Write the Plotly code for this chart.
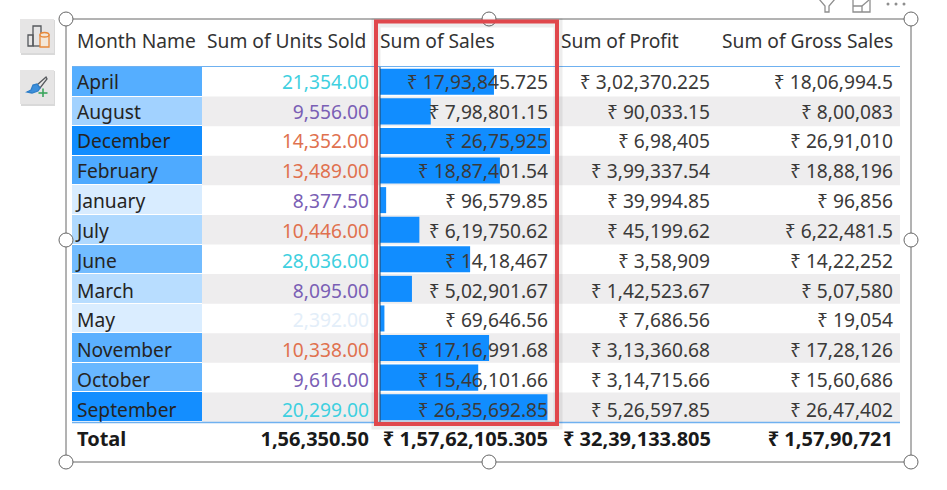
import plotly.graph_objects as go

months = ['April', 'August', 'December', 'February', 'January', 'July', 'June', 'March', 'May',
          'November', 'October', 'September']
units = [21354, 9556, 14352, 13489, 8377.5, 10446, 28036, 8095, 2392, 10338, 9616, 20299]
sales = [1793845.725, 798801.15, 2675925, 1887401.54, 96579.85, 619750.62, 1418467, 502901.67,
         69646.56, 1716991.68, 1546101.66, 2635692.85]
profit = [302370.225, 90033.15, 698405, 399337.54, 39994.85, 45199.62, 358909, 142523.67,
          7686.56, 313360.68, 314715.66, 526597.85]
gross = [1806994.5, 800083, 2691010, 1888196, 96856, 622481.5, 1422252, 507580, 19054, 1728126,
         1560686, 2647402]
headers = ['Month Name', 'Sum of Units Sold', 'Sum of Sales', 'Sum of Profit', 'Sum of Gross Sales']
totals = ['Total', '1,56,350.50', '₹ 1,57,62,105.305', '₹ 32,39,133.805', '₹ 1,57,90,721']

W, H = 947, 490
TOP, BOTTOM = 67, 422
FONT = 'Noto Sans'


def indian(text):
    # lakh style grouping, e.g. 1793845.725 -> 17,93,845.725
    whole, _, dec = text.partition('.')
    out = whole[-3:]
    whole = whole[:-3]
    while whole:
        out = whole[-2:] + ',' + out
        whole = whole[:-2]
    return out + ('.' + dec if dec else '')


def rupee(v):
    s = repr(float(v))
    if s.endswith('.0'):
        s = s[:-2]
    return '₹ ' + indian(s)


def unit_color(v):
    if v < 8000:
        return '#E3EEF9'
    if v < 10000:
        return '#7A5FB5'
    if v < 20000:
        return '#E0714F'
    return '#3FD0E0'


def fx(x):
    return x / W


def fy(y):
    return 1 - y / H


def rect(x0, y0, x1, y1, **kw):
    return dict(type='rect', xref='paper', yref='paper', x0=fx(x0), x1=fx(x1), y0=fy(y0), y1=fy(y1), **kw)


def seg(x0, y0, x1, y1, color, width):
    return dict(type='line', xref='paper', yref='paper', x0=fx(x0), x1=fx(x1), y0=fy(y0), y1=fy(y1),
                line=dict(color=color, width=width))


def oval(x0, y0, x1, y1, fill, color, width=1):
    return dict(type='circle', xref='paper', yref='paper', x0=fx(x0), x1=fx(x1), y0=fy(y0), y1=fy(y1),
                fillcolor=fill, line=dict(color=color, width=width))


def handle(x, y, r=7):
    return oval(x - r, y - r, x + r, y + r, 'white', '#666666')


def poly(pts, color, width=1.3, fill='rgba(0,0,0,0)', close=False):
    d = ' '.join(('M' if i == 0 else 'L') + ' %f %f' % (fx(x), fy(y)) for i, (x, y) in enumerate(pts))
    return dict(type='path', xref='paper', yref='paper', path=d + (' Z' if close else ''),
                fillcolor=fill, line=dict(color=color, width=width))


fig = go.Figure()

# month column heat colours
fig.add_trace(go.Heatmap(z=[[v] for v in sales], y=months, x=['m'], xaxis='x3', yaxis='y2',
                         colorscale=[[0, '#DFF0FF'], [1, '#118DFF']], zmin=0, zmax=max(sales),
                         showscale=False, ygap=1, hoverinfo='skip'))

# data bars in the sales column
fig.add_trace(go.Bar(x=sales, y=months, orientation='h', xaxis='x2', yaxis='y2',
                     marker=dict(color='#118DFF', line=dict(width=0)), width=0.88, hoverinfo='skip'))


def column(values, right, colors='#3B3A39'):
    fig.add_trace(go.Scatter(x=[right] * len(months), y=months, mode='text', text=values, xaxis='x4', yaxis='y3',
                             textposition='middle left', textfont=dict(family=FONT, size=19.2, color=colors),
                             cliponaxis=False, hoverinfo='skip'))


fig.add_trace(go.Scatter(x=[77] * len(months), y=months, mode='text', text=months, xaxis='x4', yaxis='y3',
                         textposition='middle right', textfont=dict(family=FONT, size=19.2, color='#252423'),
                         cliponaxis=False, hoverinfo='skip'))
column(['{:,.2f}'.format(v) if v < 100000 else indian('%.2f' % v) for v in units], 369,
       [unit_color(v) for v in units])
column([rupee(v) for v in sales], 548)
column([rupee(v) for v in profit], 710)
column([rupee(v) for v in gross], 893)

# header and total rows
head_x = [77, 207, 380, 561, 722]
fig.add_trace(go.Scatter(x=head_x, y=[43.5] * 5, mode='text', text=headers, xaxis='x4', yaxis='y4',
                         textposition='middle right', textfont=dict(family=FONT, size=19.2, color='#333333'),
                         cliponaxis=False, hoverinfo='skip'))
total_x = [77, 369, 548, 711, 893]
fig.add_trace(go.Scatter(x=total_x, y=[441] * 5, mode='text', text=['<b>%s</b>' % t for t in totals],
                         xaxis='x4', yaxis='y4', textfont=dict(family=FONT, size=20, color='#1A1A1A'),
                         textposition=['middle right'] + ['middle left'] * 4, cliponaxis=False, hoverinfo='skip'))

shapes = []
# zebra rows
row_h = (BOTTOM - TOP) / len(months)
for i in range(1, len(months), 2):
    shapes.append(rect(202, TOP + i * row_h, 900, TOP + (i + 1) * row_h, layer='below',
                       fillcolor='#EEEDEE', line=dict(width=0)))
shapes.append(seg(72, 66.5, 900, 66.5, '#6FB1F0', 1))
shapes.append(seg(72, 422.5, 900, 422.5, '#6FB1F0', 1.5))
shapes.append(seg(380, TOP, 380, BOTTOM, '#2B4A6B', 1))

# selection frame and handles
shapes.append(rect(66, 19, 911, 462, line=dict(color='#666666', width=1), fillcolor='rgba(0,0,0,0)'))
for hx, hy in [(66, 19), (489, 19), (911, 19), (66, 240), (911, 240), (66, 462), (489, 462), (911, 462)]:
    shapes.append(handle(hx, hy))

# red highlight box with its soft shadow
shapes.append(rect(376, 23, 558, 425, line=dict(color='rgba(0,0,0,0.07)', width=9), fillcolor='rgba(0,0,0,0)'))
shapes.append(rect(376, 21.5, 557, 424, line=dict(color='#E0474C', width=4), fillcolor='rgba(0,0,0,0)'))

# side buttons
for y0 in [19, 70]:
    shapes.append(rect(21, y0 + 1, 55, y0 + 36, fillcolor='#D9D9D9', line=dict(width=0)))
    shapes.append(rect(20, y0, 54, y0 + 34, fillcolor='#E6E5E5', line=dict(width=0)))

# data icon on the first button
ink = '#55585C'
shapes.append(poly([(28, 46), (28, 35), (33, 35), (33, 46)], ink, close=True))
shapes.append(poly([(33, 46), (33, 26), (41, 26), (41, 33)], ink))
shapes.append(poly([(33, 46), (40, 46)], ink))
shapes.append(rect(40, 35, 49, 47, fillcolor='#F3E7D8', line=dict(color='#E8893A', width=1.3)))
shapes.append(oval(40, 32.5, 49, 37, '#F3E7D8', '#E8893A', 1.3))

# brush icon on the second button
shapes.append(poly([(37, 85), (46, 77), (47, 79), (40, 88)], ink, close=True))
shapes.append(poly([(27, 92), (31, 90), (33, 85), (37, 84), (40, 88), (38, 91), (32, 93)], '#2F7FC9',
                   fill='#3D8FDB', close=True))
shapes.append(seg(43, 88.5, 43, 97, '#3BA55D', 1.6))
shapes.append(seg(38.5, 93, 47.5, 93, '#3BA55D', 1.6))

# visual header icons at the top right
grey = '#8E8E8E'
shapes.append(poly([(819, -1), (835, -1), (829, 6), (829, 12), (825, 12), (825, 6)], grey, close=True))
shapes.append(poly([(862, -1), (870, -1), (870, 12), (853, 12), (853, 0)], grey))
shapes.append(poly([(853, 6), (862, 6), (862, 12)], grey))
shapes.append(poly([(862, 6), (869, 0)], grey))
for dot_x in [888, 896, 904]:
    shapes.append(oval(dot_x - 1.5, 2.5, dot_x + 1.5, 5.5, grey, grey, 0))

fig.update_layout(
    width=W, height=H, margin=dict(l=0, r=0, t=0, b=0), showlegend=False,
    paper_bgcolor='white', plot_bgcolor='rgba(0,0,0,0)', shapes=shapes,
    xaxis=dict(visible=False),
    yaxis=dict(visible=False),
    xaxis2=dict(visible=False, domain=[fx(380), fx(550)], range=[0, max(sales)], anchor='y2', fixedrange=True),
    yaxis2=dict(visible=False, domain=[fy(BOTTOM), fy(TOP)], range=[11.5, -0.5], anchor='x2',
                categoryorder='array', categoryarray=months),
    xaxis3=dict(visible=False, domain=[fx(72), fx(202)], anchor='y2'),
    xaxis4=dict(visible=False, domain=[0, 1], range=[0, W], anchor='y3'),
    # the text rows sit a little lower and wider spaced than the cell fills
    yaxis3=dict(visible=False, domain=[fy(427), fy(69)], range=[11.5, -0.5], anchor='x4',
                categoryorder='array', categoryarray=months),
    yaxis4=dict(visible=False, domain=[0, 1], range=[H, 0], anchor='x4'),
)

fig.write_html('out.html', config=dict(displayModeBar=False),
               post_script="document.body.style.margin='0';")
